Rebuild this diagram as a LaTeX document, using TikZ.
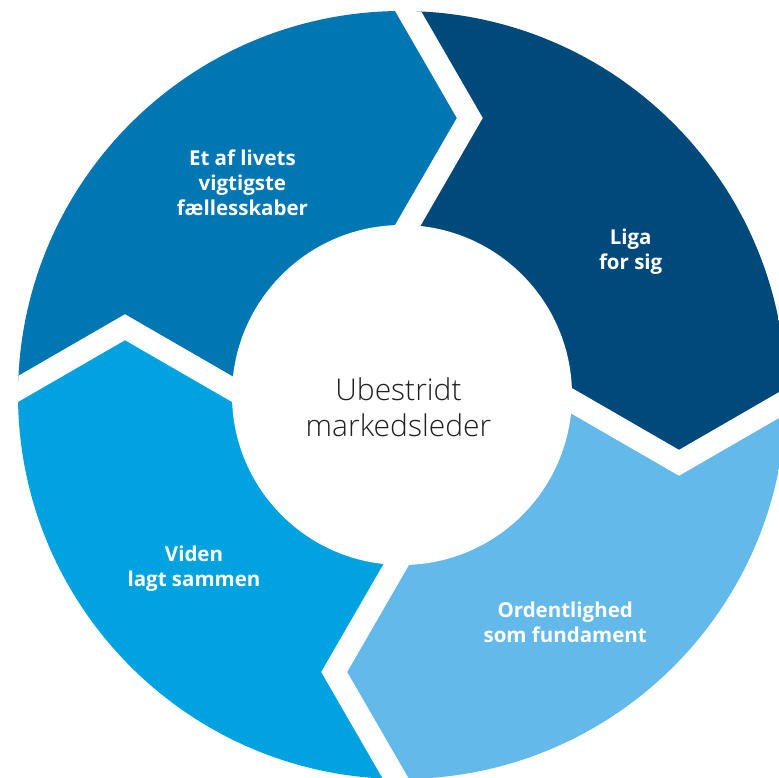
\documentclass[tikz,border=0pt]{standalone}
\usepackage{fontspec}
\setmainfont{Open Sans}
\IfFontExistsTF{Open Sans Light}{\newfontfamily\lightfont{Open Sans Light}}{\newfontfamily\lightfont{Open Sans}}
\definecolor{cTL}{RGB}{0,118,178}
\definecolor{cTR}{RGB}{0,74,123}
\definecolor{cBR}{RGB}{99,185,233}
\definecolor{cBL}{RGB}{0,163,224}
\definecolor{cTxt}{RGB}{35,31,32}
\tikzset{
  seglabel/.style={text=white, align=center, font=\fontsize{20.5}{25}\selectfont\bfseries},
  gapline/.style={white, line width=22.4, line join=miter},
}
\begin{document}
\begin{tikzpicture}[x=1pt,y=1pt]
\useasboundingbox (-402,-382) rectangle (377,395);
% separator chevrons (inner-extended, apex, outer-extended)
\coordinate (TI) at (-22.84,120);  \coordinate (TA) at (67.8,277);   \coordinate (TO) at (-37.86,460);
\coordinate (RI) at (120,22.84);   \coordinate (RA) at (277,-67.8);  \coordinate (RO) at (460,37.86);
\coordinate (BI) at (22.84,-120);  \coordinate (BA) at (-67.8,-277); \coordinate (BO) at (37.86,-460);
\coordinate (LI) at (-120,-22.84); \coordinate (LA) at (-277,67.8);  \coordinate (LO) at (-460,-37.86);
\coordinate (C) at (0,0);
\begin{scope}
  \clip (C) circle (384);
  \fill[cTL] (C) -- (LI) -- (LA) -- (LO) -- (-600,600) -- (TO) -- (TA) -- (TI) -- cycle;
  \fill[cTR] (C) -- (TI) -- (TA) -- (TO) -- (600,600) -- (RO) -- (RA) -- (RI) -- cycle;
  \fill[cBR] (C) -- (RI) -- (RA) -- (RO) -- (600,-600) -- (BO) -- (BA) -- (BI) -- cycle;
  \fill[cBL] (C) -- (BI) -- (BA) -- (BO) -- (-600,-600) -- (LO) -- (LA) -- (LI) -- cycle;
  \draw[gapline] (TI) -- (TA) -- (TO);
  \draw[gapline] (RI) -- (RA) -- (RO);
  \draw[gapline] (BI) -- (BA) -- (BO);
  \draw[gapline] (LI) -- (LA) -- (LO);
\end{scope}
\fill[white] (C) circle (170);
\node[seglabel] (tl) at (-159.6,212.5) {Et af livets\\vigtigste\\fællesskaber};
\node[seglabel] (tr) at (228.7,143) {Liga\\for sig};
\node[seglabel] (br) at (163.2,-227) {Ordentlighed\\som fundament};
\node[seglabel] (bl) at (-208,-174) {Viden\\lagt sammen};
\node[text=cTxt, align=center, font=\lightfont\fontsize{30}{36}\selectfont] (ctr) at (-3.5,-12) {Ubestridt\\markedsleder};
\end{tikzpicture}
\end{document}
